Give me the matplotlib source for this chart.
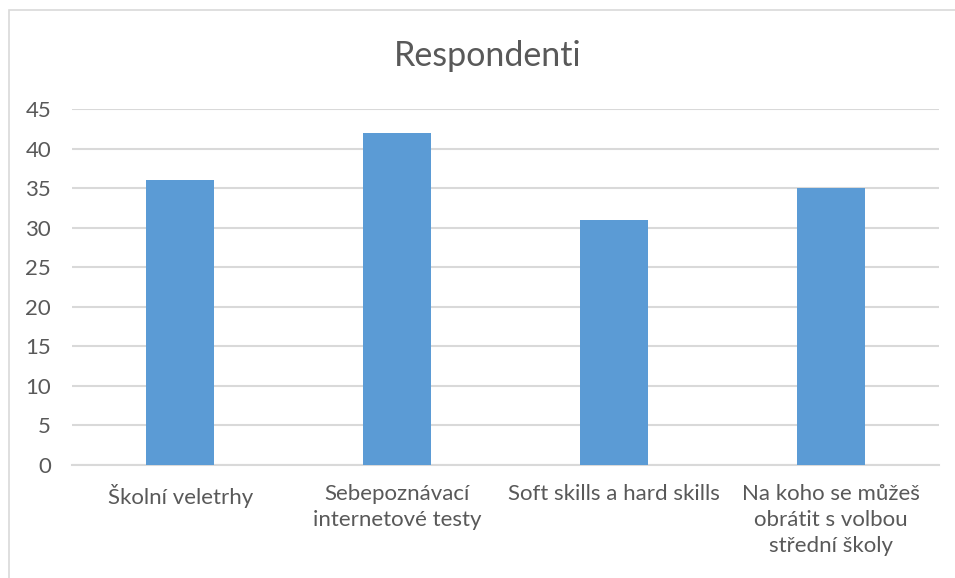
import matplotlib.pyplot as plt
from matplotlib.patches import Rectangle

# Data
categories = [
    "Školní veletrhy",
    "Sebepoznávací\ninternetové testy",
    "Soft skills a hard skills",
    "Na koho se můžeš\nobrátit s volbou\nstřední školy",
]
values = [36, 42, 31, 35]
yticks = [0, 5, 10, 15, 20, 25, 30, 35, 40, 45]

TEXT = "#595959"
GRID = "#D9D9D9"
BAR = "#5B9BD5"

plt.rcParams["font.family"] = ["Lato", "DejaVu Sans"]

fig = plt.figure(figsize=(9.55, 5.78), dpi=100)
ax = fig.add_axes([72 / 955, 1 - 465 / 578, (939 - 72) / 955, (465 - 109) / 578])

x = list(range(len(categories)))
ax.bar(x, values, width=0.314, color=BAR, zorder=3)

ax.set_xlim(-0.5, len(categories) - 0.5)
ax.set_ylim(0, 45)
ax.set_yticks(yticks)
ax.set_xticks(x)
ax.set_xticklabels(categories, fontsize=16, color=TEXT, linespacing=1.36)
ax.tick_params(axis="y", length=0, pad=15, labelsize=16, labelcolor=TEXT)
ax.tick_params(axis="x", length=0, pad=14)

ax.grid(axis="y", color=GRID, linewidth=1.5, zorder=0)
for s in ["top", "right", "left"]:
    ax.spines[s].set_visible(False)
ax.spines["bottom"].set_color(GRID)
ax.spines["bottom"].set_linewidth(1.5)

fig.text(488 / 955, 1 - 56 / 578, "Respondenti", ha="center", va="center",
         fontsize=24.5, color=TEXT)

# chart area border (cropped on the right and bottom)
fig.patches.append(Rectangle((9 / 955, -0.1), 1.2, 1 - 10 / 578 + 0.1,
                             transform=fig.transFigure, fill=False,
                             edgecolor=GRID, linewidth=1.2))

fig.savefig("out.png", dpi=100)
